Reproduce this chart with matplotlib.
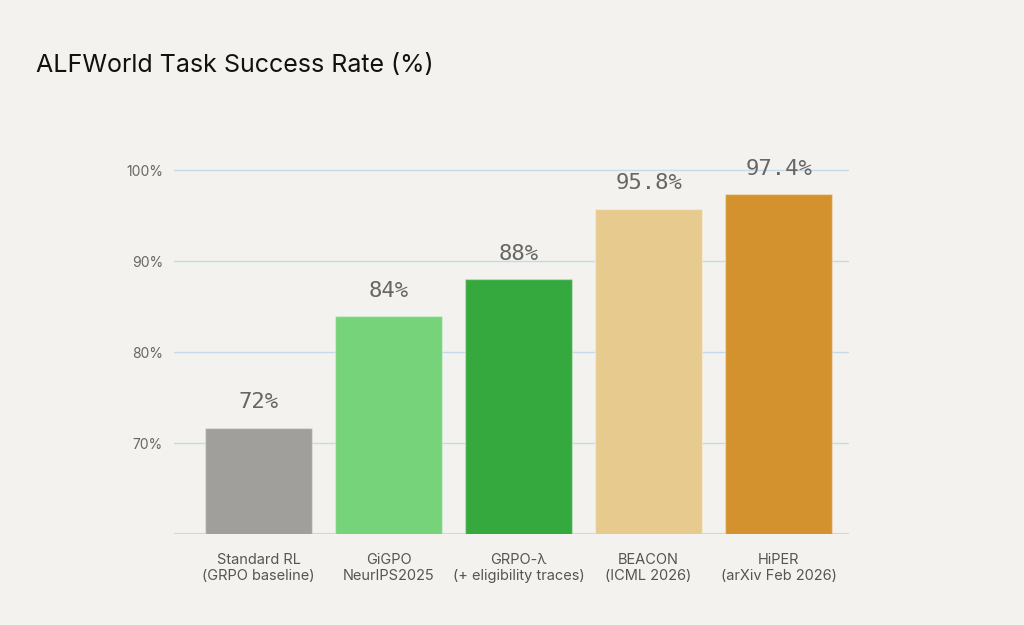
import matplotlib.pyplot as plt
import numpy as np

# data
methods = ["Standard RL\n(GRPO baseline)", "GiGPO\nNeurIPS2025",
           "GRPO-λ\n(+ eligibility traces)", "BEACON\n(ICML 2026)",
           "HiPER\n(arXiv Feb 2026)"]
success = [71.7, 84.0, 88.0, 95.8, 97.4]
value_labels = ["72%", "84%", "88%", "95.8%", "97.4%"]
colors = ["#a19f9c", "#77d37a", "#36a93e", "#e7ca8e", "#d4922f"]
yticks = [70, 80, 90, 100]

bg = "#f3f2ee"
plt.rcParams["font.family"] = ["Inter", "DejaVu Sans"]

fig = plt.figure(figsize=(10.24, 6.25), dpi=100, facecolor=bg)
ax = fig.add_axes([0.170, 0.1456, 0.659, 0.64])
ax.set_facecolor(bg)

x = np.arange(len(methods))
bars = ax.bar(x, success, width=0.82, bottom=0, color=colors,
              edgecolor="#ffffff55", linewidth=1, zorder=3)

for xi, v, lab in zip(x, success, value_labels):
    ax.annotate(lab, (xi, v), xytext=(0, 11), textcoords="offset points",
                ha="center", va="bottom", fontsize=16, color="#666666",
                family="DejaVu Sans Mono")

ax.set_ylim(60, 104)
ax.set_xlim(-0.65, 4.54)
ax.set_yticks(yticks)
ax.set_yticklabels([f"{t}%" for t in yticks])
ax.set_xticks(x)
ax.set_xticklabels(methods, linespacing=1.15)
ax.grid(axis="y", color="#c5d9e8", linewidth=1, zorder=0)
ax.axhline(60, color="#c5d9e8", linewidth=1.5, zorder=1)
for s in ax.spines.values():
    s.set_visible(False)
ax.tick_params(axis="y", length=0, pad=8, labelsize=10, labelcolor="#666666")
ax.tick_params(axis="x", length=0, pad=14, labelsize=10.5, labelcolor="#555555")

fig.text(0.035, 0.895, "ALFWorld Task Success Rate (%)", fontsize=18,
         color="#111111", va="center", ha="left")

fig.savefig("out.png", dpi=100, facecolor=bg)
